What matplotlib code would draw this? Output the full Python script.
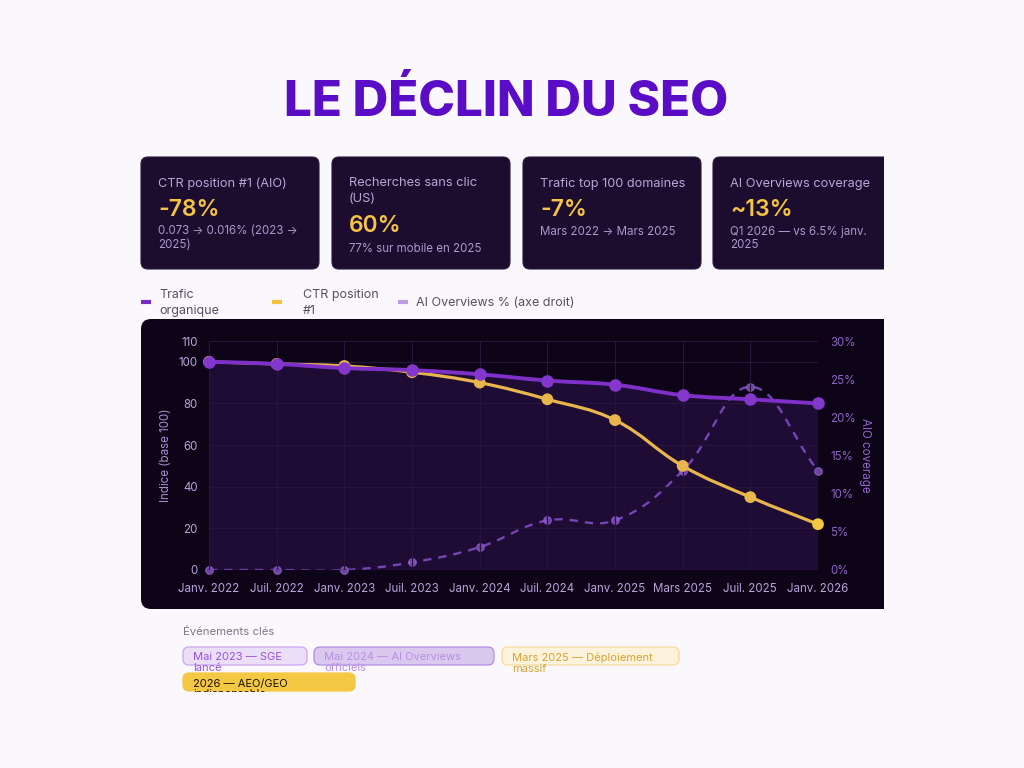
import numpy as np
import matplotlib.pyplot as plt
from matplotlib.patches import FancyBboxPatch, PathPatch, Rectangle
from matplotlib.path import Path

W, H = 1024, 768
plt.rcParams['font.family'] = ['Inter', 'DejaVu Sans']

# data
months = ["Janv. 2022", "Juil. 2022", "Janv. 2023", "Juil. 2023", "Janv. 2024",
          "Juil. 2024", "Janv. 2025", "Mars 2025", "Juil. 2025", "Janv. 2026"]
trafic = [100, 99, 97, 96, 94, 91, 89, 84, 82, 80]
ctr = [100, 99, 98, 95, 90, 82, 72, 50, 35, 22]
aio = [0, 0, 0, 1, 3, 6.5, 6.5, 13, 24, 13]

left_ticks = [0, 20, 40, 60, 80, 100, 110]
right_ticks = [0, 5, 10, 15, 20, 25, 30]

kpi_labels = ["CTR position #1 (AIO)", "Recherches sans clic\n(US)",
              "Trafic top 100 domaines", "AI Overviews coverage"]
kpi_values = ["-78%", "60%", "-7%", "~13%"]
kpi_notes = ["0.073 \u2192 0.016% (2023 \u2192\n2025)", "77% sur mobile en 2025",
             "Mars 2022 \u2192 Mars 2025", "Q1 2026 \u2014 vs 6.5% janv.\n2025"]

events = ["Mai 2023 \u2014 SGE\nlanc\u00e9", "Mai 2024 \u2014 AI Overviews\nofficiels",
          "Mars 2025 \u2014 D\u00e9ploiement\nmassif", "2026 \u2014 AEO/GEO\nindispensable"]

BG = "#fbf8fd"
PURPLE = "#7e30c9"
GOLD = "#e8b64c"
CARD = "#1c0c2e"
PANEL = "#0d0417"
TICK = "#b9a3da"

fig = plt.figure(figsize=(W / 100, H / 100), dpi=100, facecolor=BG)

# overlay in pixel coordinates
ov = fig.add_axes([0, 0, 1, 1], zorder=0)
ov.set_xlim(0, W)
ov.set_ylim(H, 0)
ov.axis("off")

ov.text(506, 102, "LE D\u00c9CLIN DU SEO", ha="center", va="center",
        fontsize=35.5, fontweight="heavy", color="#5a0cc6")

# KPI cards
card_x = [141, 332, 523, 713]
card_w = 178
for i, x0 in enumerate(card_x):
    ov.add_patch(FancyBboxPatch((x0, 157), card_w, 112,
                                boxstyle="round,pad=0,rounding_size=7",
                                fc=CARD, ec="#2a1840", lw=0.8))
    tx = x0 + 17
    y = 183.5
    for line in kpi_labels[i].split("\n"):
        ov.text(tx, y, line, ha="left", va="center", fontsize=9.2, color="#b9a5d6")
        y += 16
    vy = y + 10
    ov.text(tx, vy, kpi_values[i], ha="left", va="center", fontsize=16.5,
            fontweight="semibold", color="#f5c443")
    y = vy + 22 + (1 if "\n" in kpi_labels[i] else 0)
    for line in kpi_notes[i].split("\n"):
        ov.text(tx, y, line, ha="left", va="center", fontsize=8.3, color="#ab97c9")
        y += 14

# legend
leg = [("Trafic\norganique", "#7a2bc4", 141, 159),
       ("CTR position\n#1", "#f2c43c", 272, 303),
       ("AI Overviews % (axe droit)", "#c19be6", 398, 416)]
for txt, c, lx, tx in leg:
    ov.plot([lx, lx + 10], [302, 302], color=c, lw=3, solid_capstyle="butt")
    ov.text(tx, 303, txt, ha="left", va="center", fontsize=9, color="#555060",
            linespacing=1.35)

# chart panel
ov.add_patch(FancyBboxPatch((141, 319), 760, 290,
                            boxstyle="round,pad=0,rounding_size=10",
                            fc=PANEL, ec="none"))

# key events
ov.text(183, 632, "\u00c9v\u00e9nements cl\u00e9s", ha="left", va="center",
        fontsize=8.2, color="#7d7886")
pills = [(183, 647, 124, "#ebdff7", "#c9a6ee", "#9a52da"),
         (314, 647, 180, "#dbc8ee", "#b48ee0", "#b88fe4"),
         (502, 647, 177, "#fdf3dc", "#f2dc9d", "#d4a431"),
         (183, 673, 172, "#f4c842", "#f4c842", "#1a1208")]
for (px, py, pw, fc, ec, tc), ev in zip(pills, events):
    ov.add_patch(FancyBboxPatch((px, py), pw, 18,
                                boxstyle="round,pad=0,rounding_size=6",
                                fc=fc, ec=ec, lw=0.9))
    ov.text(px + 10, py + 5.5, ev, ha="left", va="top", fontsize=8,
            color=tc, linespacing=1.12)
# the last pill's second line is cut off in the reference
ov.add_patch(Rectangle((180, 692), 200, 20, fc=BG, ec="none", zorder=5))

# clip the right edge like the reference
ov.add_patch(Rectangle((884, 150), 140, 465, fc=BG, ec="none", zorder=5))

# main chart
pos = [209 / W, 1 - 570 / H, 609 / W, 229 / H]
ax2 = fig.add_axes(pos, zorder=1)
ax = fig.add_axes(pos, zorder=2)
x = np.arange(len(months))
for a in (ax, ax2):
    a.patch.set_visible(False)
    a.set_xlim(0, len(months) - 1)
    for s in a.spines.values():
        s.set_visible(False)
ax.set_ylim(0, 110)
ax2.set_ylim(0, 30)
ax2.yaxis.tick_right()
ax2.yaxis.set_label_position("right")
ax2.set_xticks([])
ax2.tick_params(axis="x", length=0)

ax.set_xticks(x)
ax.set_xticklabels(months)
ax.set_yticks(left_ticks)
ax2.set_yticks(right_ticks)
ax2.set_yticklabels([f"{v}%" for v in right_ticks])
ax.tick_params(axis="both", length=0, colors=TICK, labelsize=8.3)
ax.tick_params(axis="x", pad=9)
ax.tick_params(axis="y", pad=8)
ax2.tick_params(axis="y", length=0, colors="#8d62c4", labelsize=8.3, pad=9)
ax.grid(True, color="#26163c", lw=0.8)
ax.set_ylabel("Indice (base 100)", color="#a98ed4", fontsize=8.3, labelpad=5)
ax2.set_ylabel("AIO coverage", color="#9466cf", fontsize=8.3, rotation=270,
               labelpad=11)


def smooth_path(a, xs, ys, t=0.4):
    pts = a.transData.transform(np.column_stack([xs, ys]))
    n = len(pts)
    cps = []
    for i in range(n):
        prev = pts[i - 1] if i > 0 else pts[i]
        nxt = pts[i + 1] if i < n - 1 else pts[i]
        d01 = np.hypot(*(pts[i] - prev))
        d12 = np.hypot(*(nxt - pts[i]))
        s = d01 + d12
        fa = t * d01 / s if s else 0
        fb = t * d12 / s if s else 0
        cps.append((pts[i] - fa * (nxt - prev), pts[i] + fb * (nxt - prev)))
    verts = [pts[0]]
    codes = [Path.MOVETO]
    for i in range(n - 1):
        verts += [cps[i][1], cps[i + 1][0], pts[i + 1]]
        codes += [Path.CURVE4] * 3
    return a.transData.inverted().transform(np.array(verts)), codes


# traffic fill
v, c = smooth_path(ax, x, trafic)
fill_v = np.vstack([v, [[x[-1], 0], [x[0], 0], [x[0], 0]]])
fill_c = c + [Path.LINETO, Path.LINETO, Path.CLOSEPOLY]
ax.add_patch(PathPatch(Path(fill_v, fill_c), fc="#8a3fe0", alpha=0.15,
                       ec="none", zorder=1))
ax.axhline(0, color="#3a2356", lw=0.9, zorder=1)

# AIO dashed
v, c = smooth_path(ax2, x, aio)
ax2.add_patch(PathPatch(Path(v, c), fc="none", ec="#7446b0", lw=1.7,
                        ls=(0, (3.5, 3)), zorder=2))
ax2.scatter(x, aio, s=30, color="#8c5cc8", alpha=0.75, edgecolors="#9a6ad6",
            lw=0.8, zorder=3, clip_on=False)

# CTR
v, c = smooth_path(ax, x, ctr)
ax.add_patch(PathPatch(Path(v, c), fc="none", ec=GOLD, lw=2.3, zorder=3))
ctr_colors = [GOLD] * (len(ctr) - 1) + ["#f5c93c"]
ax.scatter(x, ctr, s=72, color=ctr_colors, zorder=4, lw=0, clip_on=False)

# traffic
v, c = smooth_path(ax, x, trafic)
ax.add_patch(PathPatch(Path(v, c), fc="none", ec=PURPLE, lw=2.8, zorder=5))
ax.scatter(x, trafic, s=82, color="#8337cc", zorder=6, lw=0, clip_on=False)

fig.savefig("out.png", dpi=100, facecolor=BG)
